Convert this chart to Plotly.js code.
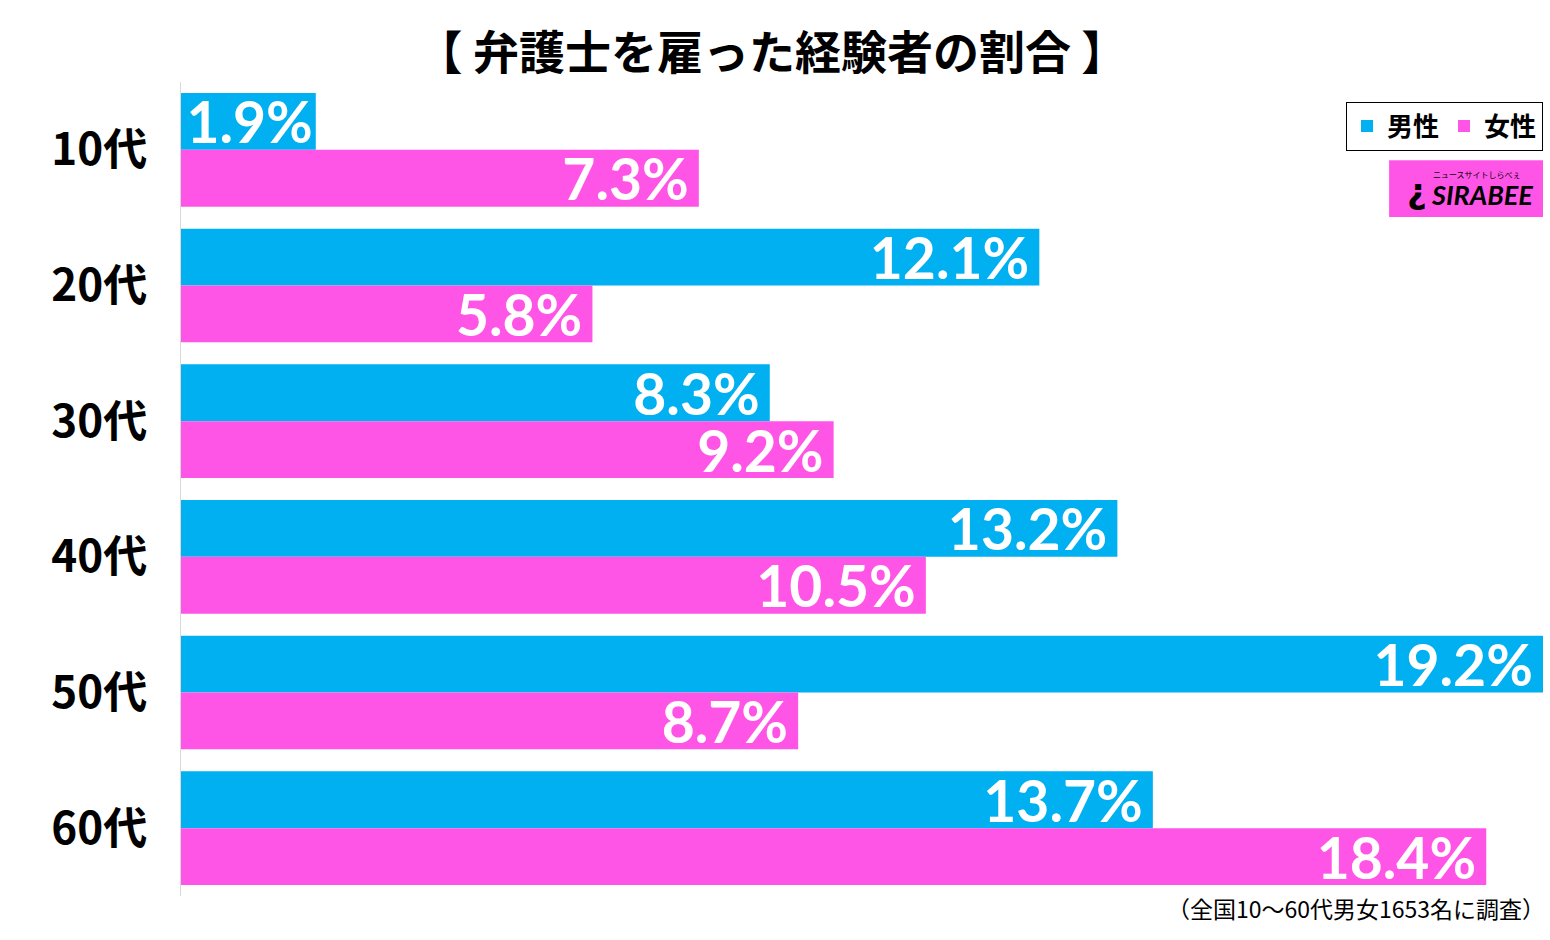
<!DOCTYPE html>
<html>
<head>
<meta charset="utf-8">
<script src="https://cdn.plot.ly/plotly-3.0.1.min.js"></script>
<style>
  html, body { margin: 0; padding: 0; background: #fff; }
  #chart { width: 1550px; height: 940px; }
</style>
</head>
<body>
<div id="chart"></div>
<script>
// 年代と男女別の割合（%）
const ageGroups = ["10代", "20代", "30代", "40代", "50代", "60代"];
const maleValues = [1.9, 12.1, 8.3, 13.2, 19.2, 13.7];
const femaleValues = [7.3, 5.8, 9.2, 10.5, 8.7, 18.4];
const seriesNames = ["男性", "女性"];

const blue = "#00b0f0";
const pink = "#ff55e6";
const jpFont = "'Noto Sans CJK JP', 'Noto Sans', sans-serif";
const numFont = "Lato, 'Open Sans', sans-serif";

function barTrace(name, values, color) {
  return {
    type: "bar",
    orientation: "h",
    name: name,
    y: ageGroups,
    x: values,
    // 右端に少し余白を入れる
    text: values.map((v) => v.toFixed(1) + "%" + (v < 3 ? "" : "\u2009")),
    textposition: "inside",
    insidetextanchor: "end",
    constraintext: "none",
    textfont: { family: numFont, size: 57, color: "#fff", weight: "bold" },
    marker: { color: color, line: { color: color, width: 0 } },
    hoverinfo: "none",
  };
}

const data = [
  barTrace(seriesNames[0], maleValues, blue),
  barTrace(seriesNames[1], femaleValues, pink),
];

const layout = {
  width: 1550,
  height: 940,
  margin: { l: 181, r: 7, t: 82, b: 44 },
  paper_bgcolor: "#fff",
  plot_bgcolor: "#fff",
  barmode: "group",
  bargap: 0.162,
  bargroupgap: 0,
  title: {
    text: "【 弁護士を雇った経験者の割合 】",
    x: 0.498,
    xanchor: "center",
    y: 0.944,
    yanchor: "middle",
    font: { family: jpFont, size: 46, color: "#000", weight: "bold" },
  },
  xaxis: {
    range: [0, 19.2],
    showticklabels: false,
    showgrid: false,
    zeroline: false,
    fixedrange: true,
  },
  yaxis: {
    autorange: "reversed",
    showline: true,
    linecolor: "#d9d9d9",
    linewidth: 1,
    ticks: "outside",
    ticklen: 24,
    tickcolor: "rgba(0,0,0,0)",
    tickfont: { family: jpFont, size: 44, color: "#000", weight: "bold" },
    fixedrange: true,
  },
  showlegend: true,
  legend: {
    orientation: "h",
    x: 1,
    xanchor: "right",
    y: 0.976,
    yanchor: "top",
    bgcolor: "#fff",
    bordercolor: "#000",
    borderwidth: 1,
    font: { family: jpFont, size: 26, color: "#000", weight: "bold" },
    itemwidth: 30,
    tracegroupgap: 0,
    traceorder: "normal",
  },
  shapes: [
    // ロゴの背景
    {
      type: "rect",
      xref: "paper",
      yref: "paper",
      x0: 0.887,
      x1: 1,
      y0: 0.834,
      y1: 0.904,
      fillcolor: pink,
      line: { width: 0 },
    },
  ],
  annotations: [
    {
      xref: "paper",
      yref: "paper",
      x: 0.994,
      y: 0.862,
      xanchor: "right",
      yanchor: "middle",
      text: "<b><i>SIRABEE</i></b>",
      showarrow: false,
      font: { family: "Lato, sans-serif", size: 27, color: "#000", weight: 900 },
    },
    {
      xref: "paper",
      yref: "paper",
      x: 0.9075,
      y: 0.866,
      xanchor: "center",
      yanchor: "middle",
      text: "<b>¿</b>",
      showarrow: false,
      font: { family: "'DejaVu Sans', sans-serif", size: 34, color: "#000" },
    },
    {
      xref: "paper",
      yref: "paper",
      x: 0.985,
      y: 0.886,
      xanchor: "right",
      yanchor: "middle",
      text: "ニュースサイトしらべぇ",
      showarrow: false,
      font: { family: jpFont, size: 8, color: "#000" },
    },
    {
      xref: "paper",
      yref: "paper",
      x: 1.003,
      y: -0.0147,
      xanchor: "right",
      yanchor: "middle",
      text: "（全国10〜60代男女1653名に調査）",
      showarrow: false,
      font: { family: jpFont, size: 23, color: "#000" },
    },
  ],
};

Plotly.newPlot("chart", data, layout, { displayModeBar: false, staticPlot: true });
</script>
</body>
</html>
